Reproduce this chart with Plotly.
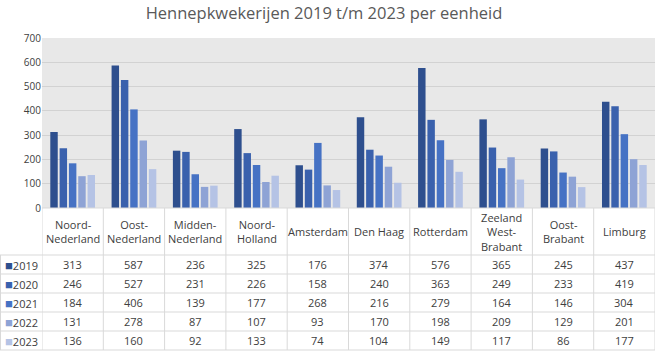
import plotly.graph_objects as go

regions = ["Noord-Nederland", "Oost-Nederland", "Midden-Nederland", "Noord-Holland",
           "Amsterdam", "Den Haag", "Rotterdam", "Zeeland West-Brabant", "Oost-Brabant", "Limburg"]
header_labels = ["Noord-<br>Nederland", "Oost-<br>Nederland", "Midden-<br>Nederland", "Noord-<br>Holland",
                 "Amsterdam", "Den Haag", "Rotterdam", "Zeeland<br>West-<br>Brabant", "Oost-<br>Brabant", "Limburg"]
years = ["2019", "2020", "2021", "2022", "2023"]
values = {
    "2019": [313, 587, 236, 325, 176, 374, 576, 365, 245, 437],
    "2020": [246, 527, 231, 226, 158, 240, 363, 249, 233, 419],
    "2021": [184, 406, 139, 177, 268, 216, 279, 164, 146, 304],
    "2022": [131, 278, 87, 107, 93, 170, 198, 209, 129, 201],
    "2023": [136, 160, 92, 133, 74, 104, 149, 117, 86, 177],
}
colors = ["#2E4F8E", "#3A61AD", "#4672C4", "#8EA3D5", "#B5C3E5"]

W, H = 664, 353
L, R, T, B = 42, 9, 38, 145
PW, PH = W - L - R, H - T - B

def px_x(px):
    return (px - L) / PW

def px_y(py):
    return (H - B - py) / PH

FONT = "Open Sans"
TXT = "#404040"
LINE = "#D9D9D9"

fig = go.Figure()
xs = list(range(len(regions)))
for y, c in zip(years, colors):
    fig.add_trace(go.Bar(x=xs, y=values[y], name=y, marker=dict(color=c, line=dict(width=0))))

shapes = []
annotations = []

# table vertical lines
for i in range(len(regions) + 1):
    shapes.append(dict(type="line", xref="x", yref="paper", x0=i - 0.5, x1=i - 0.5,
                       y0=px_y(208), y1=px_y(350), line=dict(color=LINE, width=1)))
shapes.append(dict(type="line", xref="paper", yref="paper", x0=px_x(0.5), x1=px_x(0.5),
                   y0=px_y(255), y1=px_y(350), line=dict(color=LINE, width=1)))
# table horizontal lines
shapes.append(dict(type="line", xref="paper", yref="paper", x0=0, x1=1,
                   y0=px_y(208), y1=px_y(208), line=dict(color=LINE, width=1)))
row_lines = [255, 274, 293, 312, 331, 350]
for ry in row_lines:
    shapes.append(dict(type="line", xref="paper", yref="paper", x0=px_x(0), x1=1,
                       y0=px_y(ry), y1=px_y(ry), line=dict(color=LINE, width=1)))

# header labels
for i, lab in enumerate(header_labels):
    annotations.append(dict(xref="x", yref="paper", x=i, y=px_y(231.5), text=lab, showarrow=False,
                            xanchor="center", yanchor="middle", align="center",
                            font=dict(family=FONT, size=11, color=TXT)))

# data rows
for r, (y, c) in enumerate(zip(years, colors)):
    cy = (row_lines[r] + row_lines[r + 1]) / 2
    annotations.append(dict(xref="paper", yref="paper", x=px_x(3), y=px_y(cy),
                            text=f"<span style='color:{c};font-size:13px'>■</span>{y}", showarrow=False,
                            xanchor="left", yanchor="middle",
                            font=dict(family=FONT, size=11, color=TXT)))
    for i, v in enumerate(values[y]):
        annotations.append(dict(xref="x", yref="paper", x=i, y=px_y(cy), text=str(v), showarrow=False,
                                xanchor="center", yanchor="middle",
                                font=dict(family=FONT, size=11, color=TXT)))

fig.update_layout(
    width=W, height=H,
    margin=dict(l=L, r=R, t=T, b=B),
    paper_bgcolor="white",
    plot_bgcolor="#E8E8E8",
    title=dict(text="Hennepkwekerijen 2019 t/m 2023 per eenheid", x=px_x(324), xref="paper",
               xanchor="center", y=1 - 13 / H, yanchor="middle",
               font=dict(family=FONT, size=16.5, color="#595959")),
    showlegend=False,
    barmode="group",
    bargap=0.24,
    bargroupgap=0.2,
    xaxis=dict(range=[-0.5, len(regions) - 0.5], showticklabels=False, showgrid=False,
               zeroline=False, showline=False, ticks=""),
    yaxis=dict(range=[0, 700], dtick=100, showgrid=True, gridcolor="#D2D2D2", gridwidth=1,
               zeroline=False, showline=False, ticks="",
               tickfont=dict(family=FONT, size=10, color=TXT)),
    shapes=shapes,
    annotations=annotations,
)

fig.write_html("out.html")
